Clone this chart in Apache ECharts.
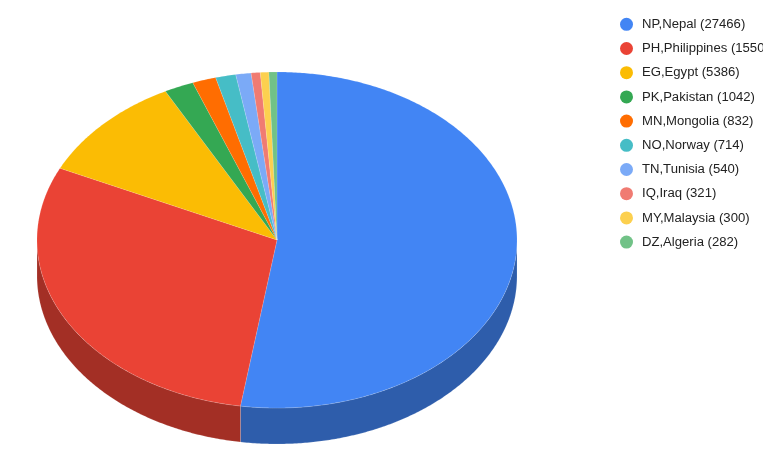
<!DOCTYPE html>
<html>
<head>
<meta charset="utf-8">
<style>html,body{margin:0;padding:0;background:#fff;overflow:hidden}#c{width:763px;height:466px}</style>
<script src="https://cdn.jsdelivr.net/npm/echarts@6/dist/echarts.min.js"></script>
</head>
<body>
<div id="c"></div>
<script>
const categories = ['NP,Nepal','PH,Philippines','EG,Egypt','PK,Pakistan','MN,Mongolia','NO,Norway','TN,Tunisia','IQ,Iraq','MY,Malaysia','DZ,Algeria'];
const values = [27466,15500,5386,1042,832,714,540,321,300,282];
const colors = ['#4285f4','#ea4335','#fbbc04','#34a853','#ff6d01','#46bdc6','#7baaf7','#f07b72','#fcd04f','#71c287'];
const sideColors = ['#2e5dab','#a32f25','#b08403','#247538','#b24c01','#31848b','#5677ad','#a85650','#b09237','#4f885f'];

const CX = 277, CY = 240, RX = 240, RY = 168, DEPTH = 36;
const total = values.reduce((a, b) => a + b, 0);
const pt = (deg, dy) => {
  const t = deg * Math.PI / 180;
  return [CX + RX * Math.sin(t), CY - RY * Math.cos(t) + (dy || 0)];
};
const arc = (a, b, dy) => {
  const out = [];
  const n = Math.max(2, Math.ceil((b - a) * 2));
  for (let i = 0; i <= n; i++) out.push(pt(a + (b - a) * i / n, dy));
  return out;
};

const chart = echarts.init(document.getElementById('c'), null, {renderer: 'canvas'});
let acc = 0;
const series = categories.map((cat, i) => {
  const start = acc / total * 360;
  acc += values[i];
  const end = acc / total * 360;
  const name = cat + ' (' + values[i] + ')';
  return {
    type: 'custom',
    name,
    coordinateSystem: 'none',
    z: 2,
    itemStyle: {color: colors[i]},
    data: [[values[i]]],
    renderItem: () => {
      const children = [];
      const a = Math.max(start, 90), b = Math.min(end, 270);
      if (b > a) {
        children.push({
          type: 'polygon',
          shape: {points: arc(a, b, 0).concat(arc(a, b, DEPTH).reverse())},
          style: {fill: sideColors[i], stroke: 'rgba(255,255,255,0.18)', lineWidth: 0.8}
        });
      }
      children.push({
        type: 'polygon',
        z2: 5,
        shape: {points: [[CX, CY]].concat(arc(start, end, 0))},
        style: {fill: colors[i], stroke: 'rgba(255,255,255,0.2)', lineWidth: 0.6}
      });
      return {type: 'group', children};
    }
  };
});

chart.setOption({
  animation: false,
  backgroundColor: '#ffffff',
  color: colors,
  legend: {
    orient: 'vertical',
    left: 620,
    top: 17.8,
    padding: 0,
    icon: 'circle',
    itemWidth: 13,
    itemHeight: 13,
    itemGap: 11.2,
    selectedMode: false,
    align: 'left',
    textStyle: {fontFamily: '"Liberation Sans", Arial, sans-serif', fontSize: 13.12, color: '#222222', padding: [0, 0, 0, 4]},
    data: series.map(s => s.name)
  },
  series
});
</script>
</body>
</html>
